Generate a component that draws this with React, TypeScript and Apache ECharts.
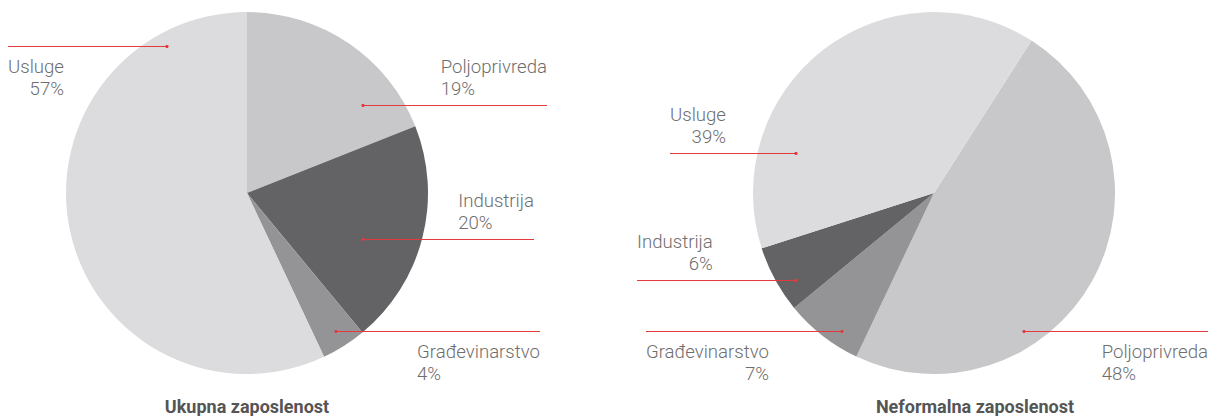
import React, { useEffect, useRef } from 'react';
import * as echarts from 'echarts';

// ---- data ----
const categoriesTotal = ['Poljoprivreda', 'Industrija', 'Građevinarstvo', 'Usluge'];
const valuesTotal = [19, 20, 4, 57];
const categoriesInformal = ['Poljoprivreda', 'Građevinarstvo', 'Industrija', 'Usluge'];
const valuesInformal = [48, 7, 6, 39];
const titles = ['Ukupna zaposlenost', 'Neformalna zaposlenost'];

// ---- styles / layout ----
const sliceColors: Record<string, string> = {
  Poljoprivreda: '#c8c8ca',
  Industrija: '#636366',
  'Građevinarstvo': '#949497',
  Usluge: '#dcdcde',
};
const RED = '#e33a3d';
const LABEL_COLOR = '#6e6e6e';
const TITLE_COLOR = '#555555';

type Lead = { dx: number; dy: number; endX: number; below: boolean };
// leader line: dot offset from the pie centre, outer end x of the line, text below or above the line
const leadsTotal: Lead[] = [
  { dx: 116, dy: -88, endX: 547, below: false },
  { dx: 116, dy: 46, endX: 534, below: false },
  { dx: 89, dy: 138, endX: 540, below: true },
  { dx: -80, dy: -147, endX: 8, below: true },
];
const leadsInformal: Lead[] = [
  { dx: 90, dy: 138, endX: 1208, below: true },
  { dx: -92, dy: 138, endX: 646, below: true },
  { dx: -138, dy: 87, endX: 637, below: false },
  { dx: -138, dy: -40, endX: 670, below: false },
];

const pies = [
  { cats: categoriesTotal, vals: valuesTotal, leads: leadsTotal, cx: 247, cy: 193, r: 181, start: 90, titleX: 247 },
  { cats: categoriesInformal, vals: valuesInformal, leads: leadsInformal, cx: 934, cy: 193, r: 181, start: 57.4, titleX: 975 },
];

export default function App() {
  const ref = useRef<HTMLDivElement>(null);
  useEffect(() => {
    if (!ref.current) return;
    const chart = echarts.init(ref.current, undefined, { renderer: 'svg' });

    const series = pies.map((p) => ({
      type: 'pie',
      center: [p.cx, p.cy],
      radius: p.r,
      startAngle: p.start,
      clockwise: true,
      avoidLabelOverlap: false,
      silent: true,
      emphasis: { disabled: true },
      data: p.cats.map((c, i) => ({ name: c, value: p.vals[i], itemStyle: { color: sliceColors[c] } })),
      label: {
        show: true,
        position: 'outer',
        formatter: '{b}\n{c}%',
        fontFamily: 'Roboto',
        fontSize: 18.6,
        fontWeight: 300,
        lineHeight: 22,
        color: LABEL_COLOR,
      },
      labelLine: { show: false },
      labelLayout: (params: any) => {
        const lead = p.leads[params.dataIndex];
        const dotX = p.cx + lead.dx;
        const dotY = p.cy + lead.dy;
        const toRight = lead.endX > dotX;
        const w = params.labelRect.width;
        return {
          x: toRight ? lead.endX - w : lead.endX + w,
          y: lead.below ? dotY + 10 : dotY - 5,
          align: toRight ? 'left' : 'right',
          verticalAlign: lead.below ? 'top' : 'bottom',
          hideOverlap: false,
        };
      },
    }));

    const graphic: any[] = [];
    pies.forEach((p, k) => {
      p.leads.forEach((lead) => {
        const dotX = p.cx + lead.dx;
        const dotY = p.cy + lead.dy + 0.5;
        graphic.push({
          type: 'line',
          shape: { x1: dotX, y1: dotY, x2: lead.endX, y2: dotY },
          style: { stroke: RED, lineWidth: 1 },
          z: 100,
          silent: true,
        });
        graphic.push({
          type: 'circle',
          shape: { cx: dotX, cy: dotY, r: 1.6 },
          style: { fill: RED },
          z: 101,
          silent: true,
        });
      });
      graphic.push({
        type: 'text',
        x: p.titleX,
        y: 397,
        style: {
          text: titles[k],
          textAlign: 'center',
          textVerticalAlign: 'top',
          fontFamily: 'Roboto',
          fontSize: 18,
          lineHeight: 18,
          fontWeight: 'bold',
          fill: TITLE_COLOR,
        },
      });
    });

    chart.setOption({
      animation: false,
      backgroundColor: '#ffffff',
      series,
      graphic,
    } as any);
    return () => chart.dispose();
  }, []);
  return (
    <div
      ref={ref}
      style={{ position: 'absolute', left: 0, top: 0, width: 1208, height: 416 }}
    />
  );
}
